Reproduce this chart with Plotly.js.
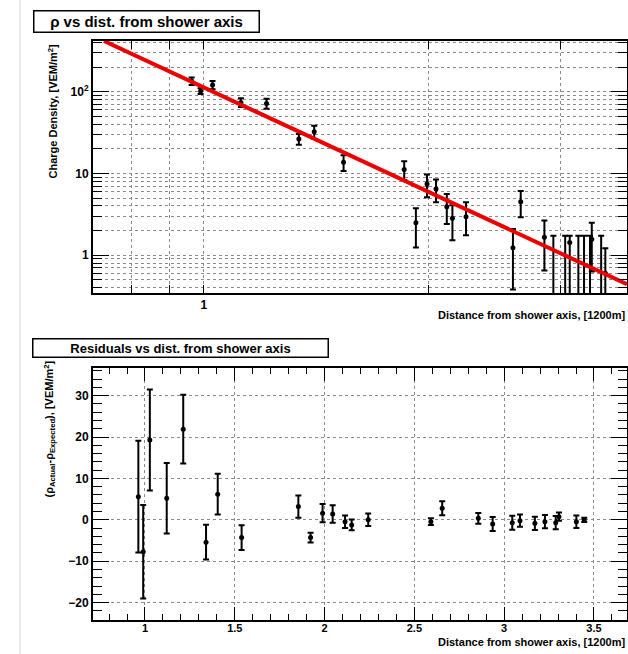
<!DOCTYPE html>
<html>
<head>
<meta charset="utf-8">
<script src="https://cdn.plot.ly/plotly-3.0.1.min.js"></script>
<style>
  html, body { margin: 0; padding: 0; background: #fff; }
  #chart { width: 628px; height: 654px; }
</style>
</head>
<body>
<div id="chart"></div>
<script>
// Station distances from the shower axis, in units of 1200 m
const dist = [0.963, 0.990, 1.027, 1.121, 1.213, 1.340, 1.405, 1.538, 1.854, 1.922,
              1.989, 2.045, 2.114, 2.151, 2.243, 2.592, 2.655, 2.856, 2.936, 3.045,
              3.088, 3.171, 3.227, 3.287, 3.305, 3.402, 3.446];

// Measured charge density [VEM/m^2] (0 = no signal) and its errors
const rho = [135, 102, 121, 74, 72, 26.4, 32.4, 13.7, 11.2, 2.49,
             7.41, 6.44, 3.91, 2.82, 2.95, 1.23, 4.51, 1.65, 0, 0,
             1.43, 0, 0, 0, 1.56, 0, 0.60];
const rhoErrUp = [14, 8, 14, 9, 10, 4, 6, 3, 2.9, 1.25,
                  2.3, 2.0, 1.7, 1.25, 1.5, 0.85, 1.6, 1.0, 1.72, 1.72,
                  0.29, 1.72, 1.72, 1.72, 0.93, 1.72, 0.61];
const rhoErrDown = [14, 8, 14, 9, 10, 4, 6, 3, 2.9, 1.25,
                    2.3, 2.0, 1.5, 1.3, 1.2, 0.85, 1.6, 1.0, 0, 0,
                    1.43, 0, 0, 0, 0.93, 0, 0.61];

// Fitted lateral distribution function (power law, straight on log-log axes)
const fitX = [0.735, 3.684];
const fitY = [418, 0.44];

// Residuals rho_actual - rho_expected [VEM/m^2] and their errors
const resid = [5.6, -7.7, 19.3, 5.2, 21.9, -5.4, 6.2, -4.3, 3.2, -4.3,
               1.6, 1.4, -0.45, -1.25, 0.0, -0.45, 2.8, 0.35, -1.0, -0.7,
               -0.2, -0.85, -0.45, -0.7, 0.75, -0.45, 0.0];
const residErr = [13.5, 11.3, 12.2, 8.5, 8.3, 4.2, 4.9, 3.0, 2.7, 1.2,
                  2.2, 2.1, 1.5, 1.3, 1.5, 0.8, 1.7, 1.3, 1.7, 1.7,
                  1.5, 1.6, 1.6, 1.6, 1.0, 1.5, 0.5];

// Axis tick positions and labels
const rhoTickVals = [1, 10, 100];
const rhoTickText = ['1', '10', '10<sup>2</sup>'];
const rhoMinorVals = [0.4, 0.5, 0.6, 0.7, 0.8, 0.9, 2, 3, 4, 5, 6, 7, 8, 9,
                      20, 30, 40, 50, 60, 70, 80, 90, 200, 300, 400];
const distLogTickVals = [0.8, 0.9, 1, 2, 3];
const distLogTickText = ['', '', '1', '', ''];

// Zero counts cannot sit on a log axis: park them below the visible range
const FLOOR = 1e-3;
const rhoPlot = rho.map(v => v > 0 ? v : FLOOR);
const rhoDownPlot = rho.map((v, i) => v > 0 ? rhoErrDown[i] : 0);

const W = 628, H = 654;
const px = v => v / W;
const py = v => 1 - v / H;

const tickFont = { family: 'Liberation Sans, Arial, sans-serif', size: 12, color: '#000', weight: 700 };
const tickFontX2 = { family: 'Liberation Sans, Arial, sans-serif', size: 11, color: '#000', weight: 700 };
const labelFont = { family: 'Liberation Sans, Arial, sans-serif', size: 11, color: '#000', weight: 700 };
const gridCol = '#8a8a8a';

const traces = [
  {
    x: dist, y: rhoPlot, xaxis: 'x', yaxis: 'y',
    type: 'scatter', mode: 'markers',
    marker: { color: '#000', size: 5 },
    error_y: { type: 'data', symmetric: false, array: rhoErrUp, arrayminus: rhoDownPlot,
               color: '#000', thickness: 2, width: 3 },
    hoverinfo: 'skip'
  },
  {
    x: fitX, y: fitY, xaxis: 'x', yaxis: 'y',
    type: 'scatter', mode: 'lines',
    line: { color: '#ec0000', width: 4 },
    hoverinfo: 'skip'
  },
  {
    x: dist, y: resid, xaxis: 'x2', yaxis: 'y2',
    type: 'scatter', mode: 'markers',
    marker: { color: '#000', size: 5 },
    error_y: { type: 'data', array: residErr, color: '#000', thickness: 2, width: 3 },
    hoverinfo: 'skip'
  }
];

const frame = {
  showline: true, linecolor: '#000', linewidth: 2, mirror: 'allticks',
  ticks: 'inside', tickcolor: '#000', tickwidth: 1,
  showgrid: true, gridcolor: gridCol, gridwidth: 1, griddash: 'dot',
  zeroline: false, tickfont: tickFont, fixedrange: true
};

const layout = {
  width: W, height: H,
  margin: { l: 0, r: 0, t: 0, b: 0 },
  paper_bgcolor: '#fff', plot_bgcolor: '#fff',
  showlegend: false,
  xaxis: Object.assign({}, frame, {
    type: 'log', domain: [px(93), px(627)], anchor: 'y',
    range: [Math.log10(0.7105), Math.log10(3.684)],
    tickmode: 'array', tickvals: distLogTickVals, ticktext: distLogTickText,
    ticklen: 8
  }),
  yaxis: Object.assign({}, frame, {
    type: 'log', domain: [py(293), py(41)], anchor: 'x',
    range: [-0.464, 2.621],
    tickmode: 'array', tickvals: rhoTickVals, ticktext: rhoTickText,
    ticklen: 16,
    minor: { tickmode: 'array', tickvals: rhoMinorVals, ticks: 'inside', ticklen: 9,
             tickcolor: '#000', showgrid: true, gridcolor: gridCol, griddash: 'dot', gridwidth: 1 }
  }),
  xaxis2: Object.assign({}, frame, {
    domain: [px(93), px(627)], anchor: 'y2',
    range: [0.7105, 3.684],
    tick0: 0, dtick: 0.5, ticklen: 13,
    tickfont: tickFontX2, ticklabelstandoff: -3,
    minor: { dtick: 0.1, ticks: 'inside', ticklen: 6, tickcolor: '#000', showgrid: false }
  }),
  yaxis2: Object.assign({}, frame, {
    domain: [py(620), py(368.3)], anchor: 'x2',
    range: [-24.2, 36.6],
    tick0: 0, dtick: 10, ticklen: 16,
    minor: { dtick: 2, ticks: 'inside', ticklen: 9, tickcolor: '#000', showgrid: false }
  }),
  shapes: [
    { type: 'line', xref: 'paper', yref: 'paper', x0: px(20), x1: px(20), y0: 0, y1: 1,
      line: { color: '#d4d4d4', width: 1 } }
  ],
  annotations: [
    { xref: 'paper', yref: 'paper', x: px(33), y: py(10), xanchor: 'left', yanchor: 'top',
      text: 'ρ vs dist. from shower axis', showarrow: false,
      font: { family: 'Liberation Sans, Arial, sans-serif', size: 15, color: '#000', weight: 700 },
      bordercolor: '#000', borderwidth: 1.5, borderpad: 1, bgcolor: '#fff',
      width: 222, height: 18, align: 'center' },
    { xref: 'paper', yref: 'paper', x: px(32), y: py(338), xanchor: 'left', yanchor: 'top',
      text: 'Residuals vs dist. from shower axis', showarrow: false,
      font: { family: 'Liberation Sans, Arial, sans-serif', size: 13, color: '#000', weight: 700 },
      bordercolor: '#000', borderwidth: 1.5, borderpad: 1, bgcolor: '#fff',
      width: 292, height: 15, align: 'center' },
    { xref: 'paper', yref: 'paper', x: px(52), y: py(42), xanchor: 'center', yanchor: 'top',
      textangle: -90, text: 'Charge Density, [VEM/m<sup>2</sup>]', showarrow: false, font: labelFont },
    { xref: 'paper', yref: 'paper', x: px(49), y: py(359), xanchor: 'center', yanchor: 'top',
      textangle: -90, text: '(ρ<sub>Actual</sub>-ρ<sub>Expected</sub>), [VEM/m<sup>2</sup>]',
      showarrow: false, font: labelFont },
    { xref: 'paper', yref: 'paper', x: px(627), y: py(315), xanchor: 'right', yanchor: 'middle',
      text: 'Distance from shower axis, [1200m]', showarrow: false, font: labelFont },
    { xref: 'paper', yref: 'paper', x: px(627), y: py(642), xanchor: 'right', yanchor: 'middle',
      text: 'Distance from shower axis, [1200m]', showarrow: false, font: labelFont }
  ]
};

Plotly.newPlot('chart', traces, layout, { staticPlot: true, displayModeBar: false });
</script>
</body>
</html>
